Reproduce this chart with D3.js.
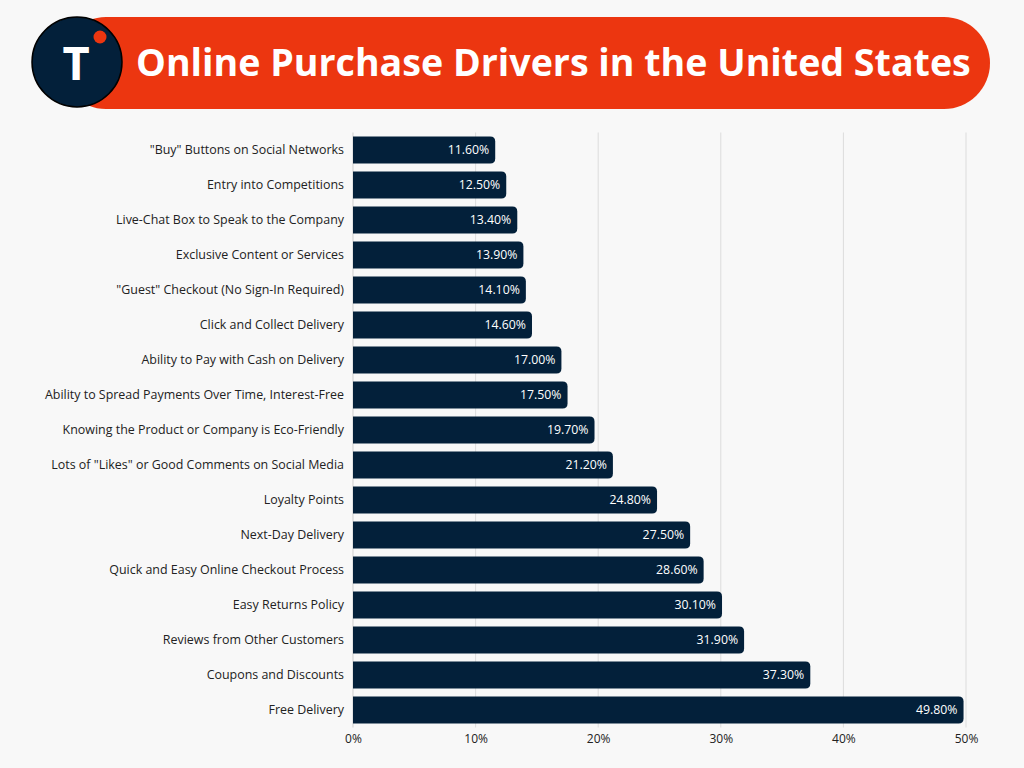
<!DOCTYPE html>
<html>
<head>
<meta charset="utf-8">
<script src="https://cdn.jsdelivr.net/npm/d3@7"></script>
<style>
  html, body { margin: 0; padding: 0; background: #f8f8f8; }
  svg { display: block; font-family: "Open Sans", "Noto Sans", sans-serif; }
</style>
</head>
<body>
<div id="chartholder"></div>
<script>
var categories = [
  '"Buy" Buttons on Social Networks',
  'Entry into Competitions',
  'Live-Chat Box to Speak to the Company',
  'Exclusive Content or Services',
  '"Guest" Checkout (No Sign-In Required)',
  'Click and Collect Delivery',
  'Ability to Pay with Cash on Delivery',
  'Ability to Spread Payments Over Time, Interest-Free',
  'Knowing the Product or Company is Eco-Friendly',
  'Lots of "Likes" or Good Comments on Social Media',
  'Loyalty Points',
  'Next-Day Delivery',
  'Quick and Easy Online Checkout Process',
  'Easy Returns Policy',
  'Reviews from Other Customers',
  'Coupons and Discounts',
  'Free Delivery'
];
var values = [11.6, 12.5, 13.4, 13.9, 14.1, 14.6, 17.0, 17.5, 19.7, 21.2, 24.8, 27.5, 28.6, 30.1, 31.9, 37.3, 49.8];
var ticks = [0, 10, 20, 30, 40, 50];
var title = "Online Purchase Drivers in the United States";

var W = 1024, H = 768;
var svg = d3.select("#chartholder").append("svg")
  .attr("width", W).attr("height", H);

svg.append("rect").attr("width", W).attr("height", H).attr("fill", "#f8f8f8");

// header banner
var header = svg.append("g");
header.append("rect")
  .attr("x", 60).attr("y", 17).attr("width", 930).attr("height", 92)
  .attr("rx", 46).attr("fill", "#ec3610");
header.append("circle")
  .attr("cx", 77).attr("cy", 62).attr("r", 45)
  .attr("fill", "#03203a").attr("stroke", "#000").attr("stroke-width", 1.5);
header.append("text")
  .attr("x", 76).attr("y", 80)
  .attr("text-anchor", "middle")
  .attr("fill", "#fff").attr("font-size", 47).attr("font-weight", 700)
  .text("T");
header.append("circle")
  .attr("cx", 100).attr("cy", 37).attr("r", 6.5).attr("fill", "#ec3610");
header.append("text")
  .attr("x", 136).attr("y", 76)
  .attr("fill", "#fff").attr("font-size", 37.6).attr("font-weight", 700)
  .text(title);

var margin = {left: 353, right: 58, top: 132.5, bottom: 40.5};

var x = d3.scaleLinear().domain([0, 50]).range([margin.left, W - margin.right]);
var y = d3.scaleBand().domain(categories)
  .range([margin.top, H - margin.bottom])
  .paddingInner(0.23).paddingOuter(0.115);

// gridlines
svg.append("g").selectAll("line")
  .data(ticks.slice(1))
  .enter().append("line")
  .attr("x1", function(d) { return x(d); }).attr("x2", function(d) { return x(d); })
  .attr("y1", margin.top).attr("y2", H - margin.bottom)
  .attr("stroke", "#dcdcdc").attr("stroke-width", 1);
svg.append("line")
  .attr("x1", x(0)).attr("x2", x(0))
  .attr("y1", margin.top).attr("y2", H - margin.bottom)
  .attr("stroke", "#cfcfcf");

// x axis
var xAxis = svg.append("g")
  .attr("transform", "translate(0," + (H - margin.bottom) + ")")
  .call(d3.axisBottom(x).tickValues(ticks).tickSize(0).tickPadding(7)
    .tickFormat(function(d) { return d + "%"; }));
xAxis.select(".domain").remove();
xAxis.selectAll("text").attr("font-size", 12).attr("fill", "#222")
  .attr("font-family", "Open Sans, sans-serif");

// y axis
var yAxis = svg.append("g")
  .attr("transform", "translate(" + (margin.left - 9) + ",0)")
  .call(d3.axisLeft(y).tickSize(0).tickPadding(0));
yAxis.select(".domain").remove();
yAxis.selectAll("text").attr("font-size", 12.45).attr("fill", "#222")
  .attr("font-family", "Open Sans, sans-serif");

// bars, right side rounded
var r = 5;
function barPath(d, i) {
  var x0 = x(0), x1 = x(d), y0 = y(categories[i]), h = y.bandwidth();
  return "M" + x0 + "," + y0 +
    "H" + (x1 - r) +
    "Q" + x1 + "," + y0 + " " + x1 + "," + (y0 + r) +
    "V" + (y0 + h - r) +
    "Q" + x1 + "," + (y0 + h) + " " + (x1 - r) + "," + (y0 + h) +
    "H" + x0 + "Z";
}
svg.append("g").selectAll("path")
  .data(values)
  .enter().append("path")
  .attr("d", barPath)
  .attr("fill", "#03203a");

svg.append("g").selectAll("text")
  .data(values)
  .enter().append("text")
  .attr("x", function(d) { return x(d) - 6; })
  .attr("y", function(d, i) { return y(categories[i]) + y.bandwidth() / 2; })
  .attr("dy", "0.35em")
  .attr("text-anchor", "end")
  .attr("fill", "#fff").attr("font-size", 12.3)
  .text(function(d) { return d.toFixed(2) + "%"; });
</script>
</body>
</html>
